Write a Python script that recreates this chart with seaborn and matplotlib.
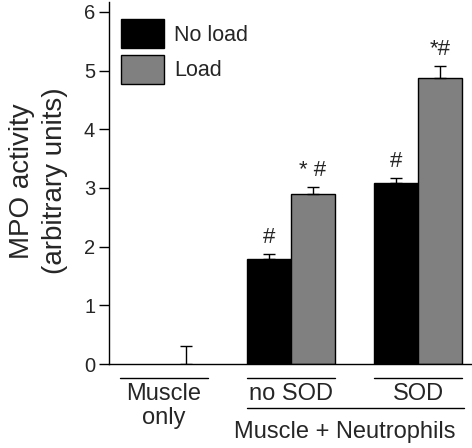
#!/usr/bin/env python3

import numpy as np
import pandas as pd
import matplotlib.pyplot as plt
import seaborn as sns

SET_DPI = 100
FIGSIZE = (4.72, 4.48)

GROUPS = ['Muscle\nonly', 'no SOD', 'SOD']
CONDITIONS = ['No load', 'Load']
NO_LOAD = [0.0, 1.79, 3.08]
LOAD = [0.0, 2.90, 4.87]
NO_LOAD_ERR = [0.0, 0.08, 0.09]
LOAD_ERR = [0.30, 0.12, 0.21]
NO_LOAD_MARK = ['', '#', '#']
LOAD_MARK = ['', '* #', '*#']
COLOURS = ['#000000', '#808080']


def mpo_bars():
    sns.set_style('ticks')
    plt.rcParams['font.family'] = ['Liberation Sans', 'DejaVu Sans']

    data = pd.DataFrame({'group': GROUPS, CONDITIONS[0]: NO_LOAD,
                         CONDITIONS[1]: LOAD})
    data = pd.melt(data, id_vars='group', var_name='cond', value_name='mpo')

    fig = plt.figure(figsize=FIGSIZE, dpi=SET_DPI)
    ax = fig.add_axes([0.231, 0.1875, 0.769, 0.808])
    sns.barplot(data=data, x='group', y='mpo', hue='cond', order=GROUPS,
                hue_order=CONDITIONS, palette=COLOURS, saturation=1,
                edgecolor='black', linewidth=1, width=0.69, errorbar=None,
                ax=ax)

    # one-sided error bars + significance marks
    for cont, errs, marks in zip(ax.containers, [NO_LOAD_ERR, LOAD_ERR],
                                 [NO_LOAD_MARK, LOAD_MARK]):
        for bar, e, m in zip(cont, errs, marks):
            x = bar.get_x() + bar.get_width() / 2
            h = bar.get_height()
            if h == 0:
                bar.set_linewidth(0)
            if e > 0:
                ax.errorbar(x, h, yerr=[[0], [e]], fmt='none', ecolor='black',
                            elinewidth=1, capsize=4, capthick=1)
            if m:
                ax.text(x, h + e + 0.1, m, ha='center', va='bottom',
                        fontsize=16)

    ax.set_xlim(-0.433, 2.425)
    ax.set_ylim(0, 6.17)
    ax.set_yticks(range(7))
    ax.tick_params(axis='y', labelsize=14.5, length=7, width=1, color='black',
                   pad=3)
    ax.tick_params(axis='x', length=0, labelbottom=False)
    ax.set_xlabel('')
    ax.set_ylabel('MPO activity\n(arbitrary units)', fontsize=20,
                  linespacing=1.35)
    ax.yaxis.set_label_coords(-0.112, 0.506)
    for s in ['top', 'right']:
        ax.spines[s].set_visible(False)
    for s in ['left', 'bottom']:
        ax.spines[s].set_color('black')
        ax.spines[s].set_linewidth(1)

    # group labels under the axis
    trans = ax.get_xaxis_transform()
    for i, g in enumerate(GROUPS):
        ax.plot([i - 0.345, i + 0.345], [-0.039, -0.039], color='black',
                lw=1, transform=trans, clip_on=False)
        ax.text(i, -0.052, g, ha='center', va='top', fontsize=17,
                linespacing=1.1, transform=trans)
    ax.plot([0.655, 2.36], [-0.1215, -0.1215], color='black', lw=1,
            transform=trans, clip_on=False)
    ax.text(1.425, -0.157, 'Muscle + Neutrophils', ha='center', va='top',
            fontsize=17, transform=trans)

    handles, labels = ax.get_legend_handles_labels()
    ax.legend(handles, labels, loc='upper left', bbox_to_anchor=(0.033, 0.953),
              frameon=False, fontsize=15.5, handlelength=2.0, handleheight=1.7,
              handletextpad=0.45, labelspacing=0.3, borderaxespad=0,
              borderpad=0)

    plt.savefig('out.png', dpi=SET_DPI)
    plt.close()


if __name__ == '__main__':
    mpo_bars()
